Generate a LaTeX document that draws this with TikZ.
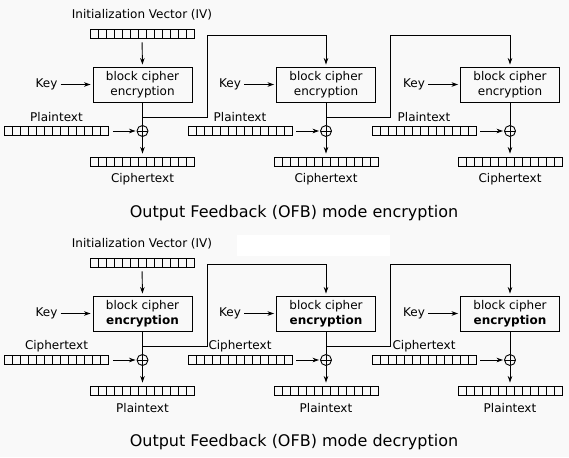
\documentclass[tikz,border=0pt]{standalone}
\usepackage{fontspec}
\setmainfont{DejaVu Sans}
\usetikzlibrary{arrows.meta}
\definecolor{bgcol}{RGB}{249,249,249}
\begin{document}
\begin{tikzpicture}[x=1pt,y=-1pt,
  every node/.style={font=\fontsize{12}{14.8}\selectfont, inner sep=0pt},
  line/.style={line width=0.9pt},
  arr/.style={line, -{Stealth[length=6.5pt,width=4.5pt]}},
  reg/.style={draw, line width=0.9pt, minimum width=104pt, minimum height=9pt,
    path picture={\foreach \i in {1,...,12}{\draw[line width=0.9pt] ([xshift=\i*8pt]path picture bounding box.south west) -- ([xshift=\i*8pt]path picture bounding box.north west);}}},
  cipherbox/.style={draw, line width=0.9pt, minimum width=99pt, minimum height=35pt, align=center},
  xor/.style={draw, circle, line width=0.9pt, minimum size=11pt,
    path picture={\draw[line width=0.9pt] (path picture bounding box.north) -- (path picture bounding box.south) (path picture bounding box.west) -- (path picture bounding box.east);}},
  caption/.style={font=\fontsize{16}{19}\selectfont}
]
\fill[bgcol] (0,0) rectangle (569,457);
\fill[white] (237,235) rectangle (390,256);

\foreach \s/\oy/\inlab/\outlab/\enc/\cap in {e/0/Plaintext/Ciphertext/encryption/encryption, d/229/Ciphertext/Plaintext/\textbf{encryption}/decryption}{
  \node (ivlab\s) at (142,{15+\oy}) {Initialization Vector (IV)};
  \node[reg] (iv\s) at (142,{33.5+\oy}) {};
  \foreach \k/\cx in {1/142.5,2/326,3/510}{
    \node[cipherbox] (box\s\k) at (\cx,{84.5+\oy}) {block cipher\\\enc};
    \node (key\s\k) at ({\cx-96},{84.5+\oy}) {Key};
    \node[reg] (in\s\k) at ({\cx-86},{131+\oy}) {};
    \node (inlab\s\k) at ({\cx-86},{117+\oy}) {\inlab};
    \node[xor] (xor\s\k) at (\cx,{131+\oy}) {};
    \node[reg] (out\s\k) at (\cx,{161.5+\oy}) {};
    \node (outlab\s\k) at (\cx,{179+\oy}) {\outlab};
    \coordinate (br\s\k) at (\cx,{117+\oy});
    \coordinate (fb\s\k) at ({\cx+64.5},{35+\oy});
    \draw[arr, shorten <=3pt, shorten >=2pt] (key\s\k) -- (box\s\k);
    \draw[line] (box\s\k.south) -- (xor\s\k.north);
    \draw[arr, shorten <=4pt, shorten >=1pt] (in\s\k) -- (xor\s\k);
    \draw[arr, shorten >=3pt] (xor\s\k.south) -- (out\s\k.north);
  }
  \draw[arr, shorten <=4pt, shorten >=2pt] (iv\s.south) -- (box\s1.north);
  \draw[arr, shorten >=2pt] (br\s1) -| (fb\s1) -| (box\s2.north);
  \draw[arr, shorten >=2pt] (br\s2) -| (fb\s2) -| (box\s3.north);
  \node[caption] (cap\s) at (294,{213+\oy}) {Output Feedback (OFB) mode \cap};
}
\end{tikzpicture}
\end{document}
